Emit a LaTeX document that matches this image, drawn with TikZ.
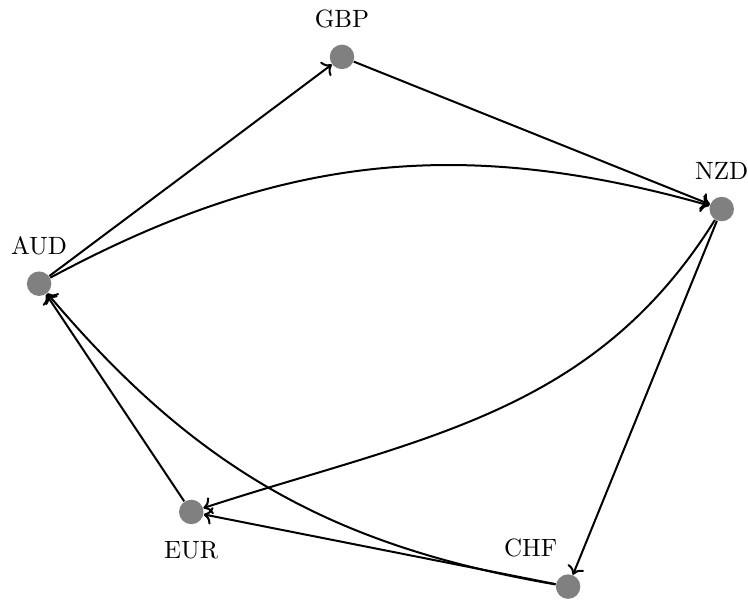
\documentclass[tikz,border=0pt]{standalone}
\usepackage{tikz}
\usetikzlibrary{arrows.meta}
\tikzset{
  currnode/.style={
    circle,
    fill=gray,
    minimum size=9.8pt,
    inner sep=0pt
  },
  currarrow/.style={
    thick,
    ->
  }
}

\begin{document}
\begin{tikzpicture}[label distance=3pt]
  \useasboundingbox (0,0) rectangle (10.52,8.45);
  \node[currnode, label=above:GBP] (gbp) at (4.81,7.65) {};
  \node[currnode, label=above:NZD] (nzd) at (10.15,5.51) {};
  \node[currnode, label=above:AUD] (aud) at (0.55,4.46) {};
  \node[currnode, label=below:EUR] (eur) at (2.69,1.25) {};
  \node[currnode, label={[xshift=-15pt]above:CHF}] (chf) at (7.99,0.20) {};
  \draw[currarrow] (aud) -- (gbp);
  \draw[currarrow] (gbp) -- (nzd);
  \draw[currarrow] (aud) to[bend left=22] (nzd);
  \draw[currarrow] (nzd) to[out=238, in=18] (eur);
  \draw[currarrow] (nzd) -- (chf);
  \draw[currarrow] (chf) -- (eur);
  \draw[currarrow] (chf) to[bend left=20] (aud);
  \draw[currarrow] (eur) -- (aud);
\end{tikzpicture}
\end{document}
